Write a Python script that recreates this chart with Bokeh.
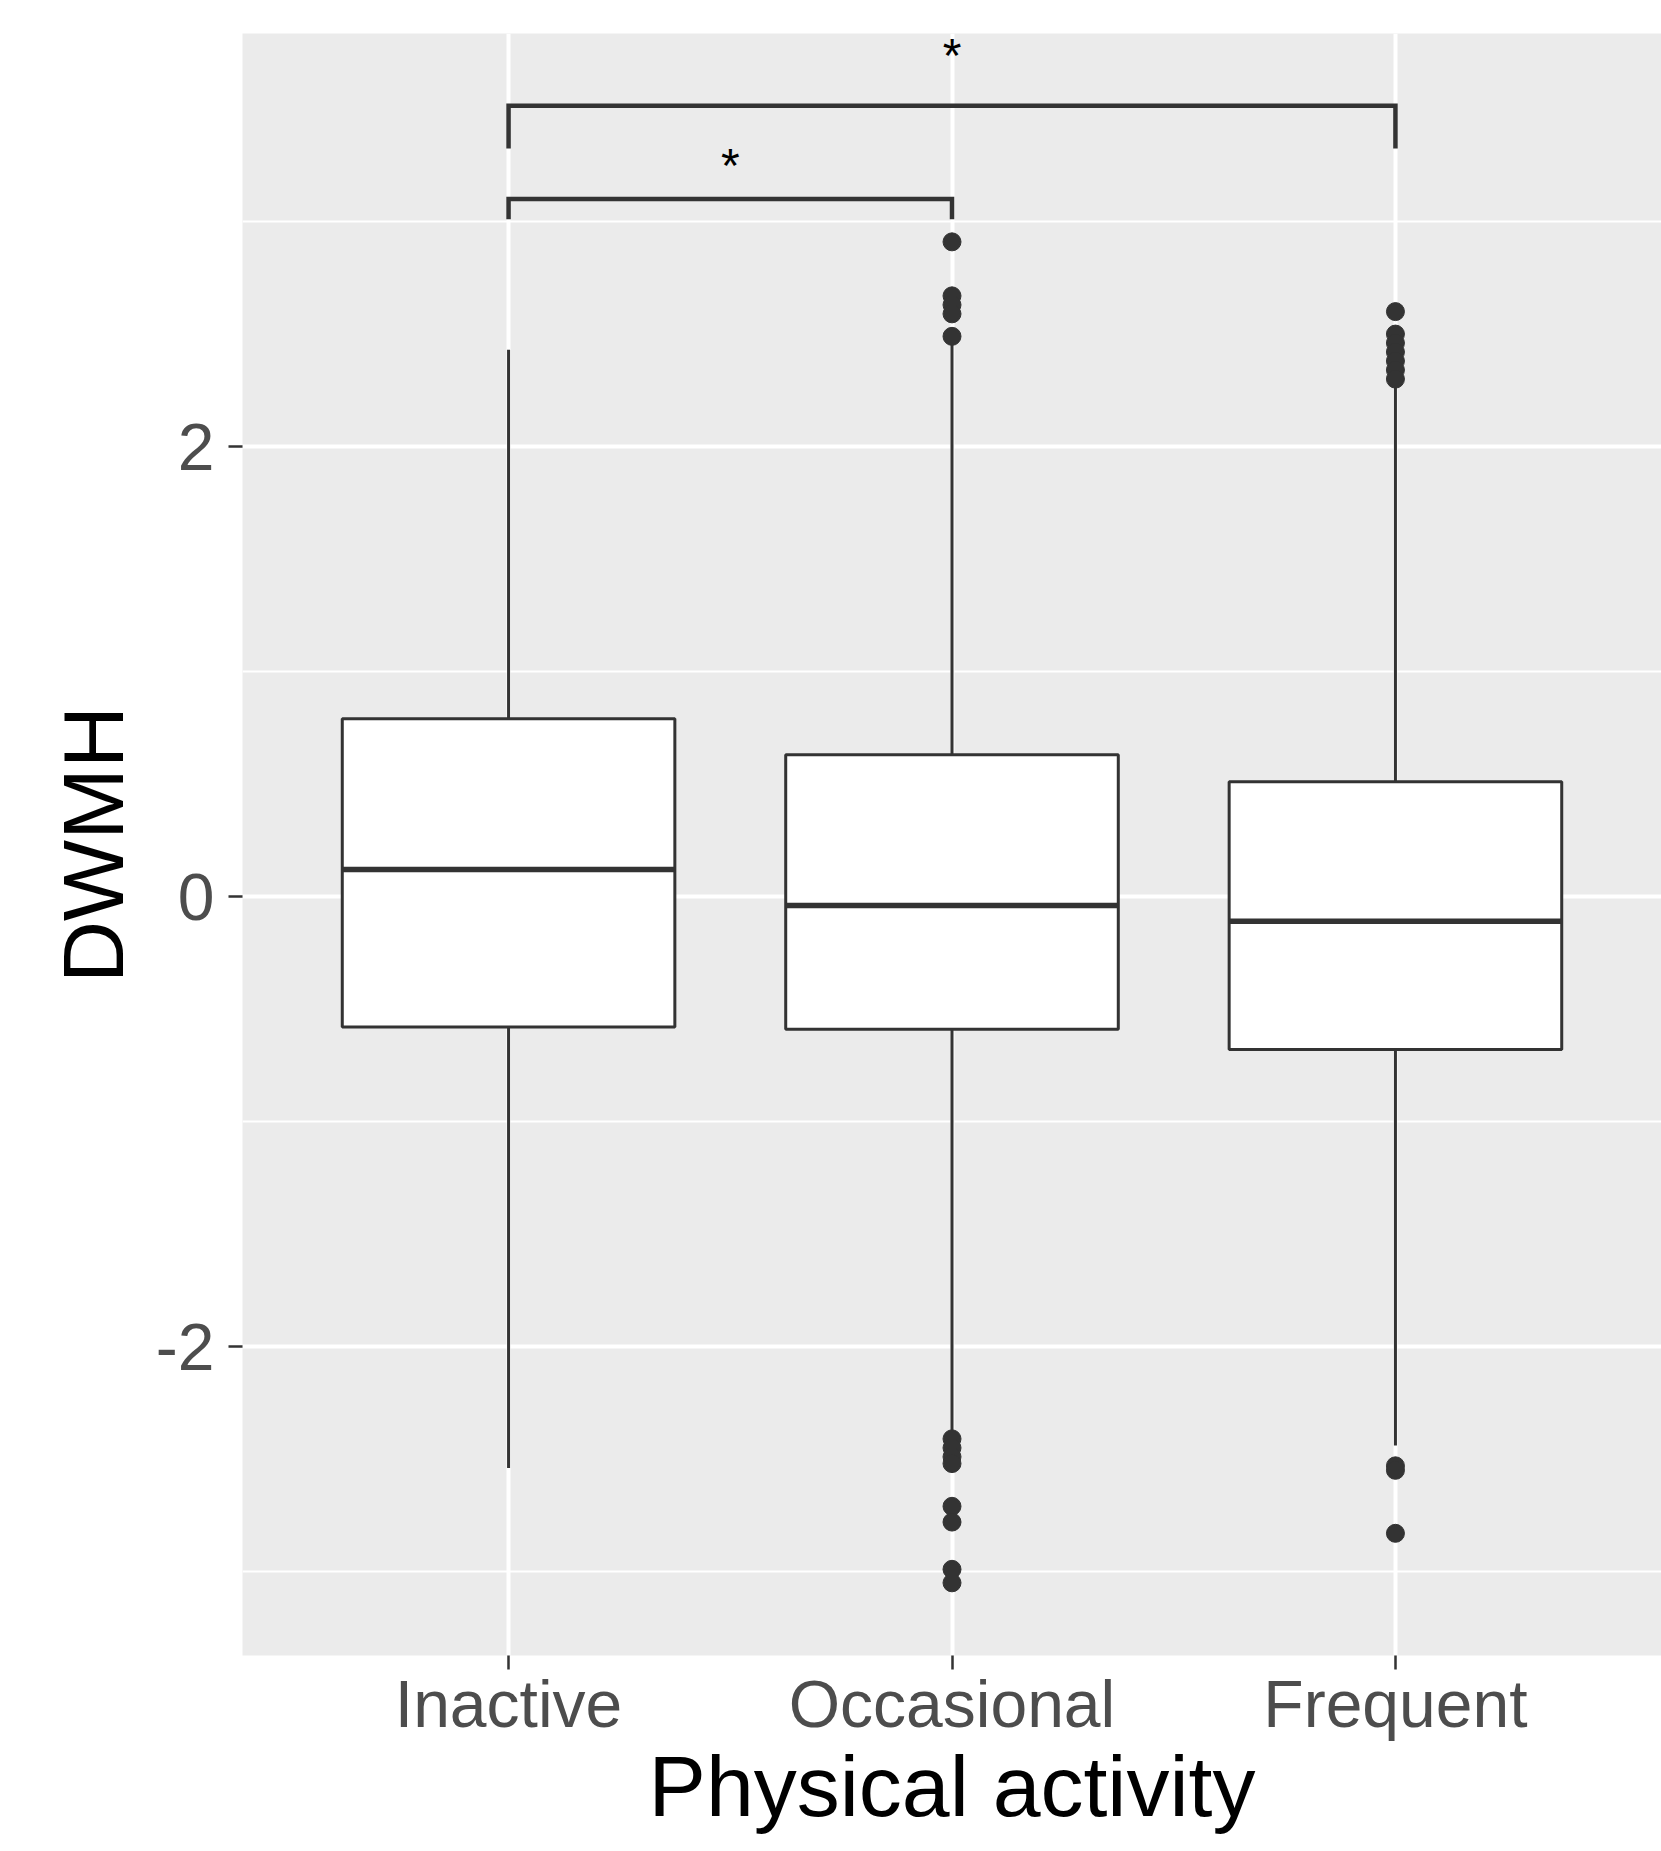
from bokeh.plotting import figure
from bokeh.models import FactorRange, Range1d, FixedTicker
from bokeh.core.properties import value
from bokeh.embed import file_html
from bokeh.resources import INLINE

# ---- data ----
categories = ["Inactive", "Occasional", "Frequent"]
q1 = [-0.58, -0.59, -0.68]
median = [0.12, -0.04, -0.11]
q3 = [0.79, 0.63, 0.51]
whisker_low = [-2.54, -2.40, -2.44]
whisker_high = [2.43, 2.46, 2.28]
outliers_inactive = []
outliers_occasional = [2.91, 2.67, 2.63, 2.59, 2.49, -2.41, -2.45, -2.49, -2.52,
                       -2.71, -2.78, -2.99, -3.05]
outliers_frequent = [2.60, 2.50, 2.46, 2.42, 2.38, 2.34, 2.30, -2.53, -2.55, -2.83]

comparisons = [("Inactive", "Occasional"), ("Inactive", "Frequent")]
bracket_top = [3.10, 3.515]
bracket_tip = [3.01, 3.325]
sig_labels = ["*", "*"]
sig_label_y = [3.25, 3.74]

y_ticks = [-2, 0, 2]
y_minor = [-3, -1, 1, 3]

FONT = "Liberation Sans"
DARK = "#333333"

p = figure(
    x_range=FactorRange(factors=categories, range_padding=0.1,
                        range_padding_units="absolute"),
    y_range=Range1d(-3.373, 3.836),
    width=1661, height=1851,
    output_backend="svg", toolbar_location=None,
    min_border_left=242, min_border_right=0,
    min_border_top=33, min_border_bottom=196,
)
p.outline_line_color = None
p.background_fill_color = "#EBEBEB"
p.border_fill_color = "white"

# grid
p.xgrid.grid_line_color = "white"
p.xgrid.grid_line_width = 4
p.yaxis.ticker = FixedTicker(ticks=y_ticks, minor_ticks=y_minor)
p.ygrid.grid_line_color = "white"
p.ygrid.grid_line_width = 4
p.ygrid.minor_grid_line_color = "white"
p.ygrid.minor_grid_line_width = 2

for ax in (p.xaxis, p.yaxis):
    ax.axis_line_color = None
    ax.major_tick_line_color = DARK
    ax.major_tick_line_width = 2.5
    ax.major_tick_out = 14
    ax.major_tick_in = 0
    ax.minor_tick_line_color = None
    ax.major_label_text_font = FONT
    ax.major_label_text_font_size = "66px"
    ax.major_label_text_color = "#4D4D4D"
    ax.axis_label_text_font = FONT
    ax.axis_label_text_font_size = "86px"
    ax.axis_label_text_font_style = "normal"
    ax.axis_label_text_color = "black"

p.xaxis.axis_label = "Physical activity"
p.xaxis.major_label_standoff = -3
p.xaxis.axis_label_standoff = -6
p.yaxis.axis_label = "DWMH"
p.yaxis.major_label_standoff = 14
p.yaxis.axis_label_standoff = 12
p.yaxis.major_label_overrides = {-2: "-2", 0: "0", 2: "2"}

# whiskers
p.segment(x0=categories, y0=q3, x1=categories, y1=whisker_high,
          line_color=DARK, line_width=3)
p.segment(x0=categories, y0=q1, x1=categories, y1=whisker_low,
          line_color=DARK, line_width=3)
# boxes
p.vbar(x=categories, width=0.75, bottom=q1, top=q3,
       fill_color="white", line_color=DARK, line_width=3)
# medians
p.segment(x0=[(c, -0.375) for c in categories], y0=median,
          x1=[(c, 0.375) for c in categories], y1=median,
          line_color=DARK, line_width=5.5)

# outliers
out_x, out_y = [], []
for c, vals in zip(categories, [outliers_inactive, outliers_occasional, outliers_frequent]):
    out_x += [c] * len(vals)
    out_y += vals
p.scatter(x=out_x, y=out_y, size=18, fill_color=DARK, line_color=DARK)

# significance brackets
for (a, b), top, tip in zip(comparisons, bracket_top, bracket_tip):
    p.line(x=[a, a, b, b], y=[tip, top, top, tip], line_color=DARK,
           line_width=4.5, line_join="miter")

label_x = []
for (a, b) in comparisons:
    ia, ib = categories.index(a), categories.index(b)
    label_x.append((a, (ib - ia) / 2.0))
p.text(x=label_x, y=sig_label_y, text=sig_labels,
       text_font=value(FONT), text_font_size="48px",
       text_align="center", text_baseline="alphabetic", text_color="black")

open("out.html", "w").write(file_html(p, INLINE))
